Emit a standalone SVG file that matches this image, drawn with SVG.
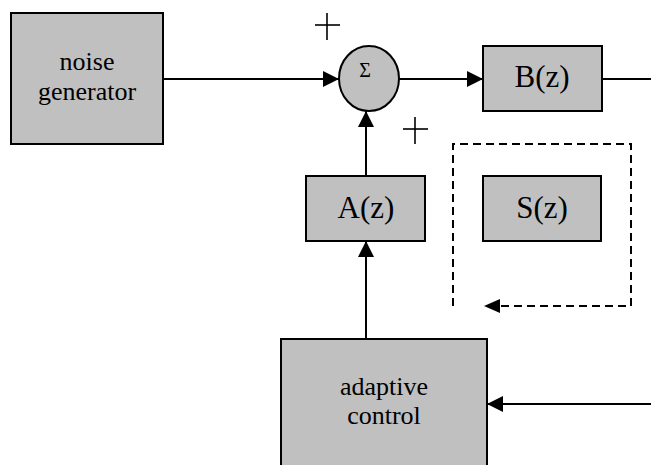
<svg xmlns="http://www.w3.org/2000/svg" width="651" height="465" viewBox="0 0 651 465">
  <style>
    .box { fill: #c0c0c0; stroke: #000; stroke-width: 2; }
    .lbl { font-family: 'Liberation Serif', 'DejaVu Serif', 'Times New Roman', serif; fill: #000; text-anchor: middle; }
    .wire { fill: none; stroke: #000; stroke-width: 2; }
    .dash { fill: none; stroke: #000; stroke-width: 2; stroke-dasharray: 8 5; }
    .plus { stroke: #000; stroke-width: 1.6; }
  </style>
  <defs>
    <marker id="arr" markerWidth="16" markerHeight="16" refX="16" refY="8" orient="auto" markerUnits="userSpaceOnUse" viewBox="0 0 16 16">
      <path d="M0,0 L16,8 L0,16 z" fill="#000"/>
    </marker>
    <marker id="arr-s" markerWidth="16" markerHeight="14" refX="16" refY="7" orient="auto" markerUnits="userSpaceOnUse" viewBox="0 0 16 14">
      <path d="M0,0 L16,7 L0,14 z" fill="#000"/>
    </marker>
  </defs>

  <!-- connectors -->
  <g id="connectors">
    <line class="wire" x1="163" y1="79" x2="339" y2="79" marker-end="url(#arr)"/>
    <line class="wire" x1="397" y1="79" x2="483" y2="79" marker-end="url(#arr)"/>
    <line class="wire" x1="602" y1="79" x2="651" y2="79"/>
    <line class="wire" x1="366" y1="176" x2="366" y2="111" marker-end="url(#arr)"/>
    <line class="wire" x1="366" y1="339" x2="366" y2="241" marker-end="url(#arr)"/>
    <line class="wire" x1="651" y1="404" x2="487" y2="404" marker-end="url(#arr)"/>
    <path class="dash" d="M453,306 L453,144 L631,144 L631,306 L484,306" marker-end="url(#arr-s)"/>
  </g>

  <g id="noise-generator">
    <rect class="box" x="11" y="13" width="152" height="131"/>
    <text class="lbl" x="87" y="70" font-size="26">noise</text>
    <text class="lbl" x="87" y="100" font-size="26">generator</text>
  </g>

  <g id="sum">
    <ellipse class="box" cx="369" cy="78.5" rx="30" ry="32.5"/>
    <text class="lbl" x="365" y="77" font-size="20">Σ</text>
  </g>

  <g id="plus-signs">
    <line class="plus" x1="315" y1="25" x2="340" y2="25"/>
    <line class="plus" x1="327" y1="13" x2="327" y2="40"/>
    <line class="plus" x1="403" y1="129" x2="428" y2="129"/>
    <line class="plus" x1="415" y1="117" x2="415" y2="144"/>
  </g>

  <g id="B">
    <rect class="box" x="483" y="46" width="119" height="65"/>
    <text class="lbl" x="542" y="87" font-size="31">B(z)</text>
  </g>

  <g id="A">
    <rect class="box" x="306" y="176" width="119" height="65"/>
    <text class="lbl" x="366" y="218" font-size="31">A(z)</text>
  </g>

  <g id="S">
    <rect class="box" x="483" y="176" width="118" height="65"/>
    <text class="lbl" x="542" y="218" font-size="31">S(z)</text>
  </g>

  <g id="adaptive-control">
    <rect class="box" x="281" y="339" width="206" height="140"/>
    <text class="lbl" x="384" y="395" font-size="26">adaptive</text>
    <text class="lbl" x="384" y="424" font-size="26">control</text>
  </g>
</svg>
